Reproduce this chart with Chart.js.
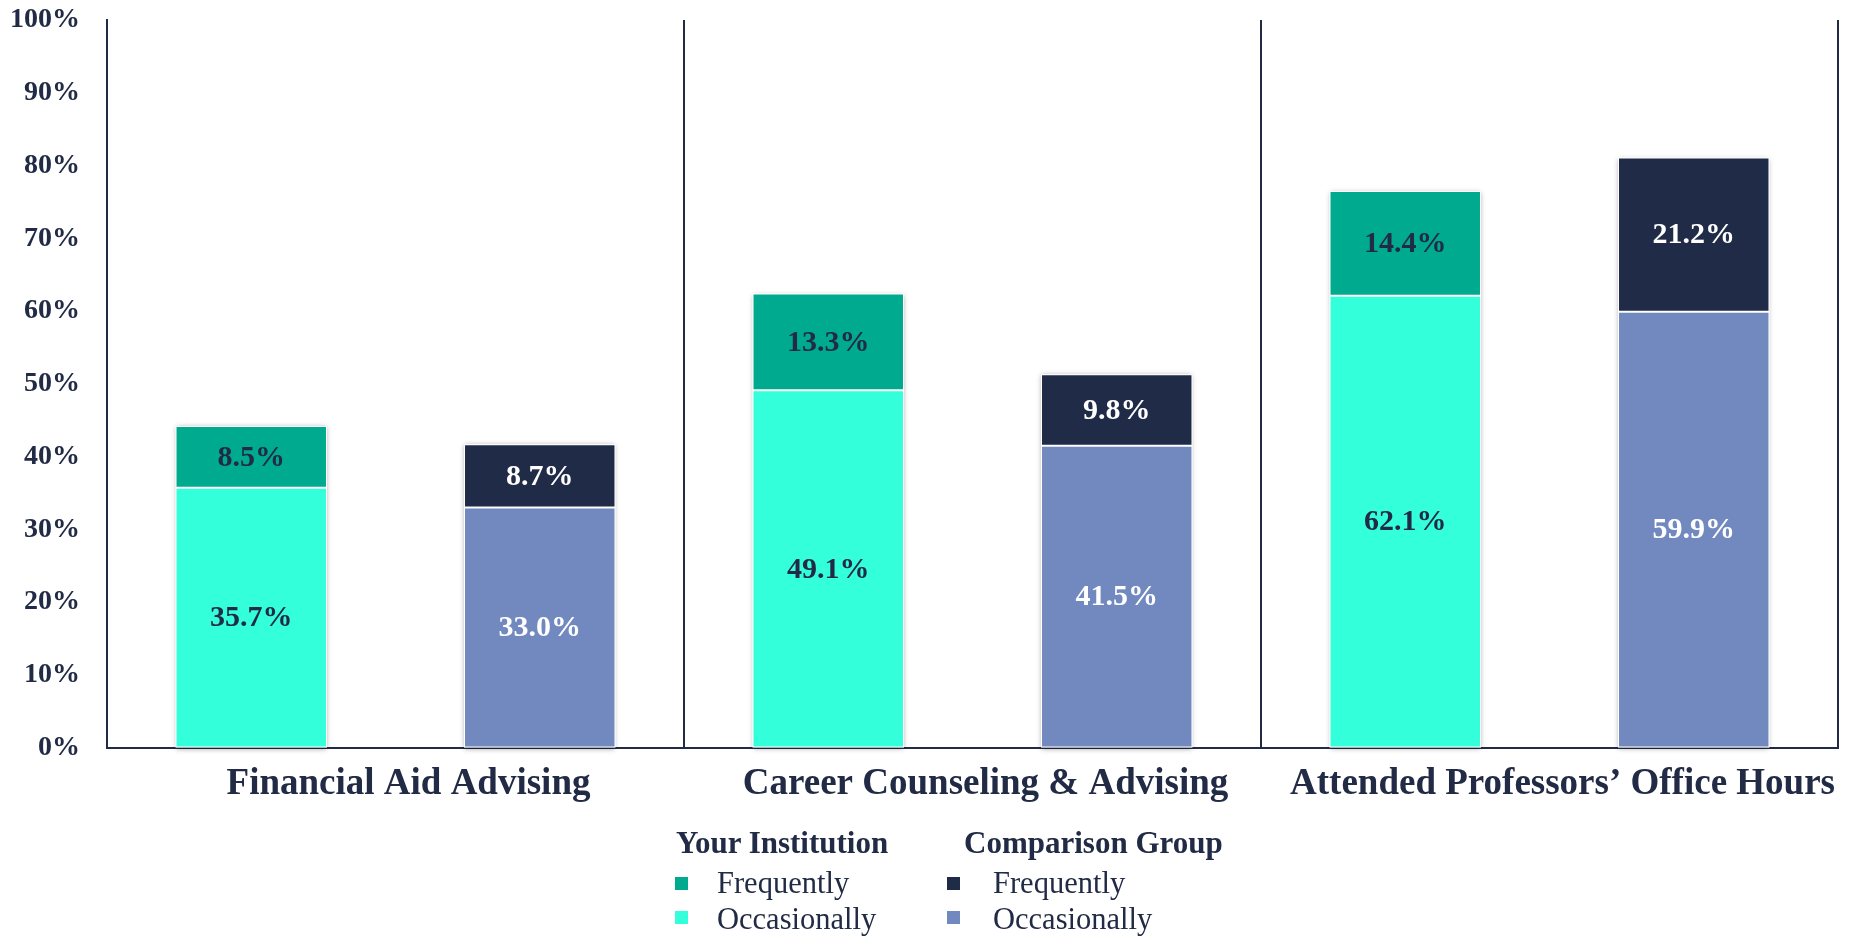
<!DOCTYPE html>
<html>
<head>
<meta charset="utf-8">
<script src="https://cdn.jsdelivr.net/npm/chart.js@4"></script>
<style>
  html, body { margin: 0; padding: 0; background: #ffffff; }
  #wrap { position: relative; width: 1870px; height: 937px; }
  #c { position: absolute; left: 0; top: 0; }
  .lg { position: absolute; font-family: "Liberation Serif", serif; color: #222B45; white-space: nowrap; line-height: 36px; height: 36px; }
  .lg.t { font-weight: bold; font-size: 31px; }
  .lg.i { font-size: 30.5px; }
  .sw { position: absolute; width: 13px; height: 13px; }
</style>
</head>
<body>
<div id="wrap">
  <canvas id="c" width="1870" height="937"></canvas>
  <div class="lg t" style="left:676px; top:825px;">Your Institution</div>
  <div class="sw" style="left:675px; top:877px; background:#00AA8E;"></div>
  <div class="lg i" style="left:717px; top:865px;">Frequently</div>
  <div class="sw" style="left:675px; top:911px; background:#33FFDB;"></div>
  <div class="lg i" style="left:717px; top:901px;">Occasionally</div>
  <div class="lg t" style="left:964px; top:825px;">Comparison Group</div>
  <div class="sw" style="left:947px; top:877px; background:#202B47;"></div>
  <div class="lg i" style="left:993px; top:865px;">Frequently</div>
  <div class="sw" style="left:947px; top:911px; background:#7289C0;"></div>
  <div class="lg i" style="left:993px; top:901px;">Occasionally</div>
</div>
<script>
const categories = ["Financial Aid Advising", "Career Counseling & Advising", "Attended Professors\u2019 Office Hours"];
const yourOccasionally = [35.7, 49.1, 62.1];
const yourFrequently = [8.5, 13.3, 14.4];
const compOccasionally = [33.0, 41.5, 59.9];
const compFrequently = [8.7, 9.8, 21.2];
const yTicks = [0, 10, 20, 30, 40, 50, 60, 70, 80, 90, 100];

const NAVY = '#222B45';

const shadowPlugin = {
  id: 'barShadow',
  beforeDatasetsDraw(chart) {
    const ctx = chart.ctx;
    const stacks = {};
    chart.data.datasets.forEach((ds, di) => {
      const meta = chart.getDatasetMeta(di);
      meta.data.forEach((el, i) => {
        const key = ds.stack + '_' + i;
        const p = el.getProps(['x', 'y', 'base', 'width'], true);
        if (!stacks[key]) stacks[key] = { x: p.x, w: p.width, top: Math.min(p.y, p.base), bot: Math.max(p.y, p.base) };
        else {
          stacks[key].top = Math.min(stacks[key].top, p.y, p.base);
          stacks[key].bot = Math.max(stacks[key].bot, p.y, p.base);
        }
      });
    });
    ctx.save();
    ctx.shadowColor = 'rgba(0,0,0,0.35)';
    ctx.shadowBlur = 5;
    ctx.shadowOffsetX = 0;
    ctx.shadowOffsetY = 1;
    ctx.fillStyle = '#ffffff';
    Object.values(stacks).forEach(s => {
      ctx.fillRect(s.x - s.w / 2, s.top, s.w, s.bot - s.top);
    });
    ctx.restore();
  }
};

const labelPlugin = {
  id: 'segLabels',
  afterDatasetsDraw(chart) {
    const ctx = chart.ctx;
    ctx.save();
    ctx.font = 'bold 30px "Liberation Serif", serif';
    ctx.textAlign = 'center';
    ctx.textBaseline = 'middle';
    chart.data.datasets.forEach((ds, di) => {
      const meta = chart.getDatasetMeta(di);
      meta.data.forEach((el, i) => {
        const p = el.getProps(['x', 'y', 'base'], true);
        ctx.fillStyle = ds.labelColor;
        ctx.fillText(ds.data[i].toFixed(1) + '%', p.x, (p.y + p.base) / 2 + 1);
      });
    });
    ctx.restore();
  }
};

new Chart(document.getElementById('c'), {
  type: 'bar',
  data: {
    labels: categories,
    datasets: [
      { label: 'Your Institution Occasionally', data: yourOccasionally, stack: 'yi', backgroundColor: '#33FFDB', labelColor: NAVY },
      { label: 'Your Institution Frequently', data: yourFrequently, stack: 'yi', backgroundColor: '#00AA8E', labelColor: NAVY },
      { label: 'Comparison Group Occasionally', data: compOccasionally, stack: 'cg', backgroundColor: '#7289C0', labelColor: '#ffffff' },
      { label: 'Comparison Group Frequently', data: compFrequently, stack: 'cg', backgroundColor: '#202B47', labelColor: '#ffffff' }
    ]
  },
  options: {
    responsive: false,
    animation: false,
    devicePixelRatio: 1,
    datasets: {
      bar: {
        categoryPercentage: 1.0,
        barPercentage: 0.525,
        borderColor: '#ffffff',
        borderWidth: 1,
        borderSkipped: false
      }
    },
    layout: { padding: { left: 12, right: 32, top: 0, bottom: 115 } },
    plugins: {
      legend: { display: false },
      tooltip: { enabled: false }
    },
    scales: {
      x: {
        stacked: true,
        offset: true,
        grid: { display: true, offset: true, color: NAVY, lineWidth: 2, drawTicks: false },
        border: { display: true, color: NAVY, width: 2 },
        ticks: {
          color: NAVY,
          padding: 15,
          labelOffset: 13,
          maxRotation: 0,
          autoSkip: false,
          font: { family: '"Liberation Serif", serif', size: 37, weight: 'bold' }
        }
      },
      y: {
        stacked: true,
        min: yTicks[0],
        max: yTicks[yTicks.length - 1],
        afterBuildTicks(scale) { scale.ticks = yTicks.map(v => ({ value: v })); },
        afterFit(scale) { scale.width = 95; scale.paddingTop = 20; scale.paddingBottom = 0; },
        grid: { display: false, drawTicks: false },
        border: { display: true, color: NAVY, width: 2 },
        ticks: {
          color: NAVY,
          padding: 27,
          callback: v => v + '%',
          font: { family: '"Liberation Serif", serif', size: 28, weight: 'bold' }
        }
      }
    }
  },
  plugins: [shadowPlugin, labelPlugin]
});
</script>
</body>
</html>
